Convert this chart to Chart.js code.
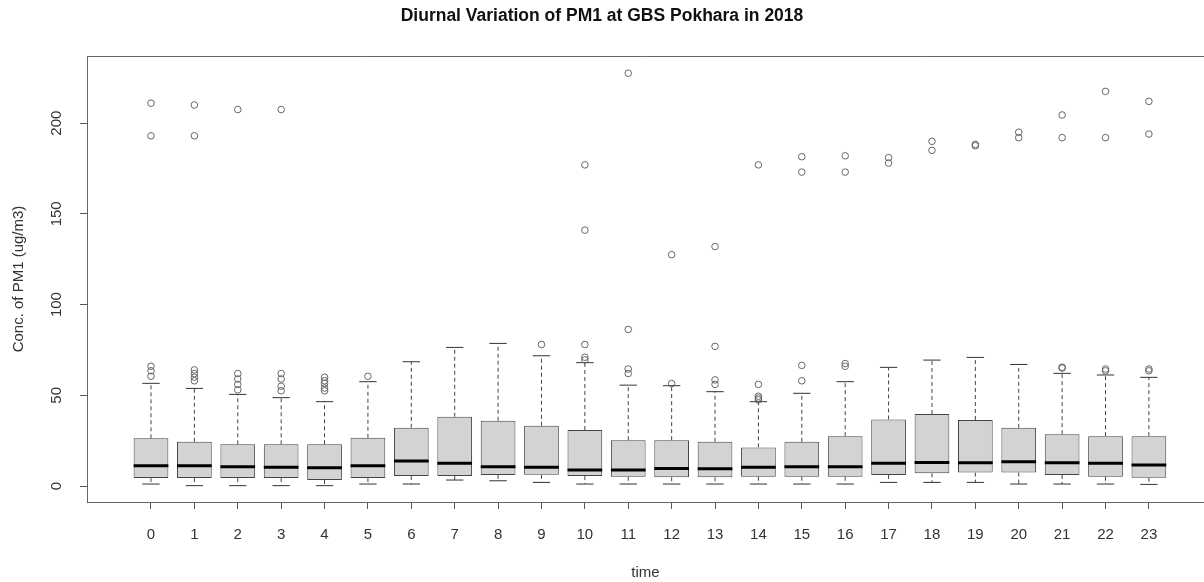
<!DOCTYPE html>
<html>
<head>
<meta charset="utf-8">
<script src="https://cdn.jsdelivr.net/npm/chart.js@4/dist/chart.umd.min.js"></script>
<style>
html,body{margin:0;padding:0;background:#fff;}
#wrap{width:1204px;height:582px;position:relative;}
</style>
</head>
<body>
<div id="wrap"><canvas id="c" width="1204" height="582"></canvas></div>
<script>
// ---- data ----
const hours = [0,1,2,3,4,5,6,7,8,9,10,11,12,13,14,15,16,17,18,19,20,21,22,23];
const xLabels = ['0','1','2','3','4','5','6','7','8','9','10','11','12','13','14','15','16','17','18','19','20','21','22','23'];
const yTicks = [0,50,100,150,200];
const whiskerLow = [1.1,0.2,0.2,0.2,0.2,1.1,1.1,3.3,2.9,2.0,1.1,1.1,1.1,1.1,1.1,1.1,1.1,2.0,2.0,2.0,1.1,1.1,1.1,0.9];
const q1 = [4.4,4.4,4.4,4.4,3.3,4.4,5.5,5.5,6.1,6.2,5.5,5.1,4.8,4.8,5.1,5.1,5.1,6.1,7.0,7.4,7.4,6.1,5.1,4.6];
const median = [11.2,11.2,10.6,10.3,10.1,11.2,13.8,12.5,10.6,10.3,8.8,8.8,9.7,9.5,10.3,10.6,10.6,12.5,13.0,12.9,13.4,12.9,12.5,11.6];
const q3 = [26.3,24.4,23.0,23.0,23.0,26.6,32.1,38.2,36.0,33.2,30.9,25.3,25.3,24.4,21.3,24.4,27.5,36.7,39.7,36.4,32.1,28.6,27.5,27.5];
const whiskerHigh = [56.6,53.8,50.5,48.7,46.5,57.5,68.5,76.4,78.6,71.8,68.0,55.6,55.3,52.0,46.5,51.1,57.5,65.4,69.4,70.9,67.0,62.1,61.2,59.9];
const outliers = [
  [60.5,63.5,66,193,211],
  [58,60,62,64,193,210],
  [53,56,59,62,207.5],
  [52.5,55,59,62,207.5],
  [52.5,54,56.5,58,60],
  [60.5],
  [],
  [],
  [],
  [78],
  [69.5,71,78,141,177],
  [62,64.5,86.3,227.5],
  [56.5,127.5],
  [56,58.5,77,132],
  [47.5,48.5,49.5,56,177],
  [58,66.5,173,181.5],
  [66,67.5,173,182],
  [178,181],
  [185,190],
  [187.5,188.3],
  [192,195],
  [65,65.5,192,204.5],
  [63.5,64.5,192,217.5],
  [63.5,64.5,194,212]
];

// ---- derived datasets ----
const boxData = hours.map((h,i)=>({x:h, y:[q1[i], q3[i]]}));
const whiskerData = [];
const capData = [];
const medianData = [];
hours.forEach((h,i)=>{
  whiskerData.push({x:h,y:q3[i]},{x:h,y:whiskerHigh[i]},{x:h,y:null});
  whiskerData.push({x:h,y:q1[i]},{x:h,y:whiskerLow[i]},{x:h,y:null});
  capData.push({x:h-0.2,y:whiskerHigh[i]},{x:h+0.2,y:whiskerHigh[i]},{x:h,y:null});
  capData.push({x:h-0.2,y:whiskerLow[i]},{x:h+0.2,y:whiskerLow[i]},{x:h,y:null});
  medianData.push({x:h-0.4,y:median[i]},{x:h+0.4,y:median[i]},{x:h,y:null});
});
const outlierData = [];
outliers.forEach((arr,i)=>arr.forEach(v=>outlierData.push({x:hours[i], y:v})));

const frame = {
  id:'frame',
  afterDraw(chart){
    const a = chart.chartArea, ctx = chart.ctx;
    ctx.save();
    ctx.strokeStyle = '#666';
    ctx.lineWidth = 1;
    ctx.beginPath();
    ctx.moveTo(a.left, a.top + 0.5);
    ctx.lineTo(a.right, a.top + 0.5);
    ctx.stroke();
    ctx.restore();
  }
};

function zeroPad(s, horiz){
  if (horiz) { s.paddingLeft = 0; s.paddingRight = 0; }
  else { s.paddingTop = 0; s.paddingBottom = 0; }
  if (s._margins) { s._margins.left = 0; s._margins.right = 0; s._margins.top = 0; s._margins.bottom = 0; }
}

const FONT = 'Liberation Sans, Arial, sans-serif';
new Chart(document.getElementById('c'), {
  type:'bar',
  data:{
    datasets:[
      {type:'line', data:medianData, borderColor:'#000', borderWidth:3, pointRadius:0, spanGaps:false, borderCapStyle:'butt', order:1},
      {type:'scatter', data:outlierData, pointStyle:'circle', pointRadius:3.3, borderWidth:1, borderColor:'#666', backgroundColor:'rgba(0,0,0,0)', order:2},
      {type:'line', data:capData, borderColor:'#333', borderWidth:1, pointRadius:0, spanGaps:false, order:3},
      {type:'line', data:whiskerData, borderColor:'#444', borderWidth:1, borderDash:[4,3], pointRadius:0, spanGaps:false, order:4},
      {type:'bar', data:boxData, backgroundColor:'#d3d3d3', borderColor:'#444', borderWidth:1, borderSkipped:false, categoryPercentage:0.8, barPercentage:1, order:5}
    ]
  },
  options:{
    responsive:false,
    animation:false,
    devicePixelRatio:1,
    layout:{padding:0, autoPadding:false},
    plugins:{
      legend:{display:false},
      tooltip:{enabled:false},
      title:{display:true, text:'Diurnal Variation of PM1 at GBS Pokhara in 2018', color:'#111',
        font:{family:FONT, size:17.5, weight:'bold', lineHeight:1.2}, padding:{top:5.5,bottom:29.5}}
    },
    scales:{
      x:{
        type:'linear', min:-1.475, max:24.27, offset:false,
        grid:{display:true, drawOnChartArea:false, drawTicks:true, tickLength:7, tickColor:'#555', offset:false},
        border:{display:true, color:'#666', width:1},
        afterBuildTicks(s){ s.ticks = hours.map(v=>({value:v})); },
        afterFit(s){ s.height = 80; zeroPad(s, true); },
        ticks:{autoSkip:false, maxRotation:0, minRotation:0, padding:17, color:'#333',
          font:{family:FONT, size:15}, callback:(v)=>xLabels[hours.indexOf(v)]},
        title:{display:true, text:'time', color:'#333', font:{family:FONT, size:15}, padding:{top:0,bottom:0}}
      },
      y:{
        type:'linear', min:-8.8, max:237,
        grid:{display:true, drawOnChartArea:false, drawTicks:true, tickLength:7, tickColor:'#555'},
        border:{display:true, color:'#666', width:1},
        afterBuildTicks(s){ s.ticks = yTicks.map(v=>({value:v})); },
        afterFit(s){ s.width = 87; zeroPad(s, false); },
        ticks:{minRotation:90, maxRotation:90, crossAlign:'center', padding:10.5, color:'#333',
          font:{family:FONT, size:15}, callback:(v)=>String(v)},
        title:{display:true, text:'Conc. of PM1 (ug/m3)', color:'#333', font:{family:FONT, size:15}, padding:{top:10,bottom:0}}
      }
    }
  },
  plugins:[frame]
});
</script>
</body>
</html>
